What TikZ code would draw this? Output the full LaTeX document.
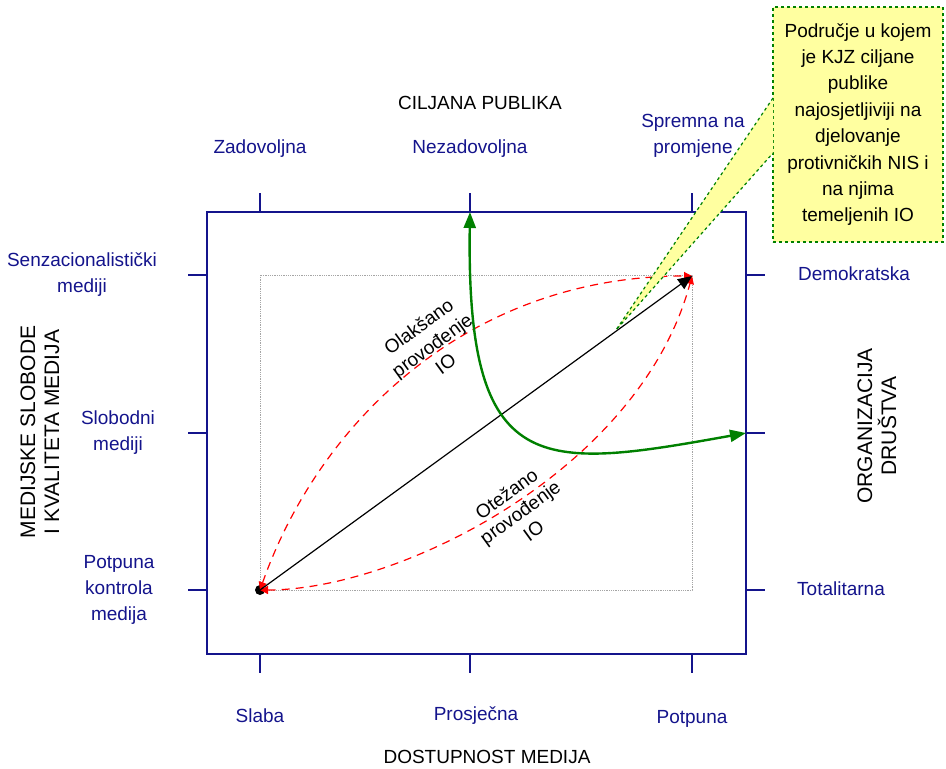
\documentclass[tikz,border=0pt]{standalone}
\usepackage{fontspec}
\setmainfont{Liberation Sans}
\usetikzlibrary{arrows.meta}

\definecolor{navy}{RGB}{20, 20, 140}
\definecolor{noteyellow}{RGB}{255, 255, 160}
\definecolor{darkgreen}{RGB}{0, 128, 0}
\definecolor{gridgrey}{RGB}{165, 165, 165}

\tikzset{
  axislabel/.style={text=navy, align=center, inner sep=0pt, font=\fontsize{19}{26}\selectfont},
  axistitle/.style={text=black, align=center, inner sep=0pt, font=\fontsize{19}{26}\selectfont},
  sidetitle/.style={text=black, align=center, inner sep=0pt, rotate=90, font=\fontsize{21}{24}\selectfont},
  curvelabel/.style={text=black, align=center, inner sep=0pt, rotate=36, font=\fontsize{19}{23}\selectfont},
  axistick/.style={navy, line width=1.3pt},
  redpath/.style={red, line width=1.2pt, dash pattern=on 8pt off 6pt, {Triangle[width=8pt,length=8pt]}-{Triangle[width=8pt,length=8pt]}},
  greenpath/.style={darkgreen, line width=2.4pt, {Triangle[width=12pt,length=16pt]}-{Triangle[width=12pt,length=16pt]}}
}

\begin{document}
\begin{tikzpicture}[x=1pt, y=-1pt]
			\useasboundingbox (0,0) rectangle (946,769);

			% Frames
			\draw[gridgrey, line width=0.8pt, densely dotted] (260,275) rectangle (692,590);
			\draw[navy, line width=1.5pt] (207,212) rectangle (746,654);

			% Ticks
			\draw[axistick] (260,193) -- (260,212); \draw[axistick] (470,193) -- (470,212); \draw[axistick] (692,193) -- (692,212);
			\draw[axistick] (260,654) -- (260,673); \draw[axistick] (470,654) -- (470,673); \draw[axistick] (692,654) -- (692,673);
			\draw[axistick] (188,275) -- (207,275); \draw[axistick] (188,433) -- (207,433); \draw[axistick] (188,590) -- (207,590);
			\draw[axistick] (746,275) -- (765,275); \draw[axistick] (746,433) -- (765,433); \draw[axistick] (746,590) -- (765,590);

			% Nodes - Top
			\node[axistitle] (CP) at (480,103) {CILJANA PUBLIKA};
			\node[axislabel] (Zad) at (260,149) {Zadovoljna};
			\node[axislabel] (Nez) at (470,149) {Nezadovoljna};
			\node[axislabel] (Spr) at (693,136) {Spremna na\\promjene};

			% Nodes - Bottom
			\node[axislabel] (Sla) at (260,716) {Slaba};
			\node[axislabel] (Pro) at (476,716) {Prosječna};
			\node[axislabel] (Pot) at (692,719) {Potpuna};
			\node[axistitle] (DM) at (487,757) {DOSTUPNOST MEDIJA};

			% Nodes - Left
			\node[axislabel] (Sen) at (82,275) {Senzacionalistički\\mediji};
			\node[axislabel] (Slo) at (118,433) {Slobodni\\mediji};
			\node[axislabel] (Kon) at (119,590) {Potpuna\\kontrola\\medija};
			\node[sidetitle] (MS) at (40,432) {MEDIJSKE SLOBODE\\I KVALITETA MEDIJA};

			% Nodes - Right
			\node[axislabel] (Dem) at (854,274) {Demokratska};
			\node[axislabel] (Tot) at (841,589) {Totalitarna};
			\node[sidetitle] (OD) at (877,426) {ORGANIZACIJA\\DRUŠTVA};

			% Points
			\node[circle, fill=black, inner sep=0pt, minimum size=10pt] (S) at (260,590) {};
			\coordinate (E) at (692,276);
			\coordinate (GT) at (470,212);
			\coordinate (GR) at (746,433);

			% Paths
			\draw[redpath] (S.center) .. controls (320,420) and (470,276) .. (E);
			\draw[redpath] (S.center) .. controls (400,590) and (640,470) .. (E);
			\draw[black, line width=1.2pt, -{Triangle[width=12pt,length=14pt]}] (S.center) -- (E);
			\draw[greenpath] (GT) .. controls (466,480) and (540,470) .. (GR);

			% Curve labels
			\node[curvelabel] (Ola) at (432,345) {Olakšano\\provođenje\\IO};
			\node[curvelabel] (Ote) at (520,512) {Otežano\\provođenje\\IO};

			% Callout
			\coordinate (Tip) at (616,330);
			\node[draw=darkgreen, dashed, line width=1.2pt, fill=noteyellow, minimum width=170pt, minimum height=235pt,
			      align=center, inner sep=0pt, font=\fontsize{19}{26.4}\selectfont] (Note) at (858,124.5)
			      {Područje u kojem\\je KJZ ciljane\\publike\\najosjetljiviji na\\djelovanje\\protivničkih NIS i\\na njima\\temeljenih IO};
			\fill[noteyellow] (773,98) -- (Tip) -- (773,153) -- cycle;
			\draw[darkgreen, dashed, line width=1.2pt] (773,98) -- (Tip) -- (773,153);
\end{tikzpicture}
\end{document}
